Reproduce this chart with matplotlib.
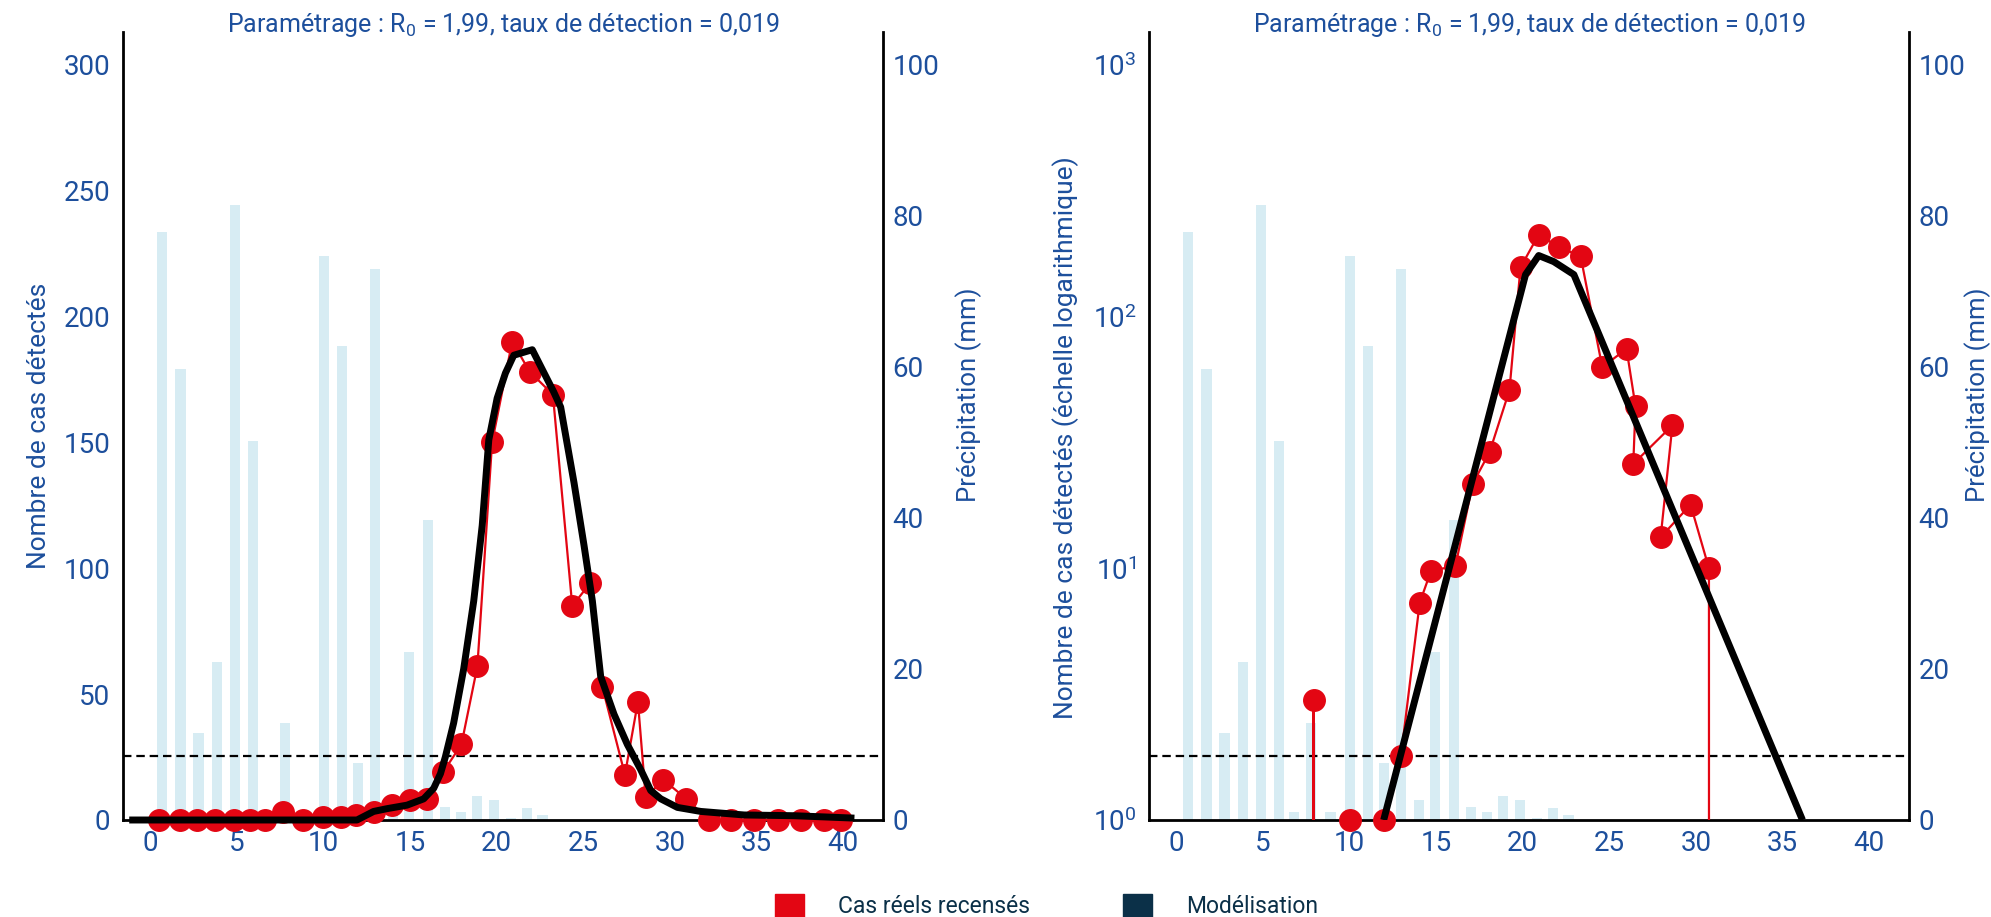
import numpy as np
import matplotlib
matplotlib.use('Agg')
import matplotlib.pyplot as plt
from matplotlib.patches import Patch
from matplotlib.ticker import NullLocator

plt.rcParams['font.family'] = ['Roboto', 'DejaVu Sans']
plt.rcParams['mathtext.fontset'] = 'custom'
plt.rcParams['mathtext.rm'] = 'Roboto'
plt.rcParams['mathtext.it'] = 'Roboto'

# precipitation (mm), commune aux deux graphes
pluie_x = [0.67, 1.74, 2.78, 3.83, 4.87, 5.90, 6.80, 7.75, 8.90, 10.05, 11.05, 12.00,
           12.95, 14.00, 14.92, 16.03, 17.03, 17.96, 18.88, 19.86, 20.83, 21.77, 22.64]
pluie_mm = [77.8, 59.7, 11.5, 20.9, 81.4, 50.2, 1.1, 12.8, 1.1, 74.7, 62.8, 7.6,
            72.9, 2.6, 22.3, 39.7, 1.7, 1.1, 3.2, 2.7, 0.3, 1.6, 0.6]
seuil_mm = 8.5

# cas reels - echelle lineaire
cas_x_lin = [0.52, 1.72, 2.68, 3.74, 4.80, 5.76, 6.63, 7.63, 8.79, 9.94, 11.01, 11.87,
             12.89, 13.95, 14.97, 15.99, 16.90, 17.96, 18.88, 19.73, 20.89, 21.91, 23.24,
             24.36, 25.38, 26.09, 27.40, 28.15, 28.60, 29.62, 30.92, 32.25, 33.55, 34.86,
             36.24, 37.56, 38.90, 39.87]
cas_lin = [0, 0, 0, 0, 0, 0, 0, 3, 0, 1, 1, 2,
           3, 6, 8, 8.5, 19, 30, 61, 150, 190, 178, 169,
           85, 94, 53, 18, 47, 9, 16, 8.5, 0, 0, 0,
           0, 0, 0, 0]

# modelisation - echelle lineaire
mod_x_lin = [-1.02, 11.93, 12.89, 13.66, 14.82, 15.78, 16.36, 16.75, 17.03, 17.51, 18.09,
             18.67, 19.16, 19.54, 20.02, 20.50, 20.98, 22.05, 23.29, 23.69, 24.46, 25.04,
             25.52, 26.00, 26.77, 27.54, 28.31, 28.89, 29.47, 30.43, 31.78, 34.28, 37.17,
             40.45]
mod_lin = [0, 0, 3.4, 4.5, 5.9, 8.4, 12.6, 18.4, 25, 38.5, 60,
           87, 117, 151, 167.5, 177.5, 184.6, 186.8, 170, 164, 134, 109,
           87, 57, 42, 30, 20, 11.7, 8.4, 5, 3.4, 2, 1.7,
           0.8]

# cas reels - echelle logarithmique
cas_x_log = [0.52, 1.72, 2.68, 3.74, 4.80, 5.76, 6.63, 7.92, 8.79, 10.04, 11.01, 11.97,
             12.97, 14.05, 14.71, 16.11, 17.11, 18.08, 19.23, 19.87, 20.92, 22.08, 23.34,
             24.59, 25.99, 26.51, 26.38, 28.64, 27.96, 29.69, 30.75, 32.25, 33.55, 34.86,
             36.24, 37.56, 38.90, 39.87]
cas_log = [0, 0, 0, 0, 0, 0, 0, 3, 0, 1, 0, 1,
           1.8, 7.3, 9.8, 10.2, 21.7, 28.9, 51, 157, 212, 189, 174,
           63, 74.5, 44, 26, 37, 13.3, 17.9, 10, 0, 0, 0,
           0, 0, 0, 0]

# modelisation - echelle logarithmique
mod_x_log = [11.97, 20.16, 20.92, 21.79, 22.95, 36.15]
mod_log = [1.0, 147, 175, 165.5, 147, 1.0]

titre = 'Paramétrage : R$_0$ = 1,99, taux de détection = 0,019'

BLEU = '#1d4f9c'
ROUGE = '#e30613'
NAVY = '#0b3048'
CIEL = '#d7ecf3'

W, H = 1991, 917
fig = plt.figure(figsize=(W / 100, H / 100), dpi=100)


def panneau(left_px, xc, yc, xm, ym, log, ylabel, ylab_y, plab_x):
    ax = fig.add_axes([left_px / W, 97 / H, 760 / W, 788 / H])
    axp = ax.twinx()
    ax.set_zorder(axp.get_zorder() + 1)
    ax.patch.set_visible(False)

    # pluie
    axp.bar(pluie_x, pluie_mm, width=0.58, color=CIEL, zorder=1)
    axp.axhline(seuil_mm, color='black', lw=1.6, ls=(0, (3.8, 2.2)), zorder=2)
    axp.set_ylim(0, 104.3)
    axp.set_yticks([0, 20, 40, 60, 80, 100])

    yc = np.array(yc, float)
    if log:
        ax.set_yscale('log')
        ax.plot(xc, yc, color=ROUGE, lw=1.6, zorder=3)
        ym_ = np.ma.masked_where(yc <= 0, yc)
        ax.plot(xc, ym_, ls='none', marker='o', ms=15.5, color=ROUGE,
                clip_on=False, zorder=4)
        ax.plot(xm, ym, color='black', lw=5, zorder=5, solid_capstyle='butt')
        ax.set_ylim(1, 1353)
        ax.set_yticks([1, 10, 100, 1000])
        ax.yaxis.set_minor_locator(NullLocator())
    else:
        ax.plot(xc, yc, color=ROUGE, lw=1.6, marker='o', ms=15.5, clip_on=False, zorder=3)
        ax.plot(xm, ym, color='black', lw=5, zorder=5, clip_on=False)
        ax.set_ylim(0, 313)
        ax.set_yticks([0, 50, 100, 150, 200, 250, 300])

    ax.set_xlim(-1.58, 42.3)
    ax.set_xticks(range(0, 41, 5))

    for a in (ax, axp):
        a.spines['top'].set_visible(False)
        for s in a.spines.values():
            s.set_linewidth(2)
            s.set_color('black')
    ax.spines['right'].set_visible(False)
    axp.spines['left'].set_visible(False)
    axp.spines['bottom'].set_visible(False)

    ax.tick_params(axis='both', length=0, labelsize=20, labelcolor=BLEU)
    ax.tick_params(axis='y', pad=9)
    ax.tick_params(axis='x', pad=7)
    axp.tick_params(axis='y', length=0, labelsize=20, labelcolor=BLEU, pad=7)

    ax.set_ylabel(ylabel, color=BLEU, fontsize=19, va='center')
    ax.yaxis.set_label_coords(-0.11, ylab_y)
    axp.set_ylabel('Précipitation (mm)', color=BLEU, fontsize=18.5, va='center')
    axp.yaxis.set_label_coords(plab_x, 0.54)

    ax.text(0.5, 1.0, titre, transform=ax.transAxes, ha='center', va='baseline',
            color=BLEU, fontsize=18)
    return ax


panneau(123, cas_x_lin, cas_lin, mod_x_lin, mod_lin, False,
        'Nombre de cas détectés', 0.5, 1.113)
panneau(1149, cas_x_log, cas_log, mod_x_log, mod_log, True,
        'Nombre de cas détectés (échelle logarithmique)', 0.485, 1.09)

poignees = [Patch(color=ROUGE), Patch(color=NAVY)]
fig.legend(poignees, ['Cas réels recensés', 'Modélisation'], loc='center left',
           bbox_to_anchor=(0.379, 0.012), ncol=2, frameon=False, fontsize=16.5,
           handlelength=1.25, handleheight=1.25, handletextpad=1.5, columnspacing=4.05,
           labelcolor=NAVY)

fig.savefig('out.png', dpi=100)
